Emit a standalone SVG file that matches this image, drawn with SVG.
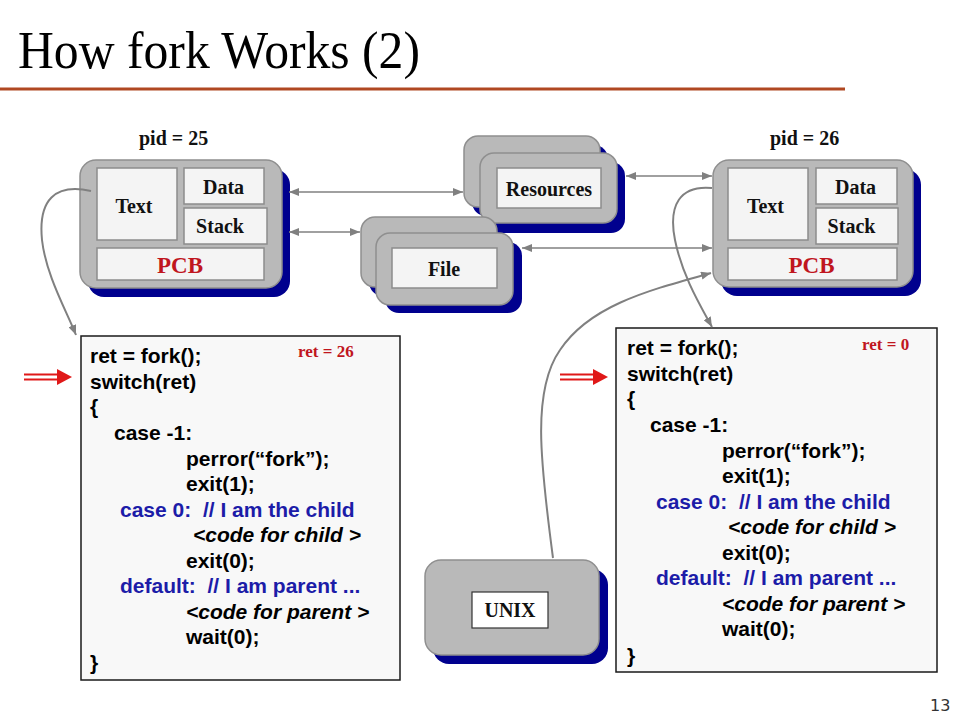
<svg xmlns="http://www.w3.org/2000/svg" width="960" height="720" viewBox="0 0 960 720">
<defs>
<style>
.title{font-family:"Liberation Serif","Times New Roman",serif;font-size:52px;fill:#000}
.lbl{font-family:"Liberation Serif","Times New Roman",serif;font-weight:bold;font-size:20px;fill:#111;text-anchor:middle}
.pcb{font-family:"Liberation Serif","Times New Roman",serif;font-weight:bold;font-size:23px;fill:#C0161E;text-anchor:middle}
.pid{font-family:"Liberation Serif","Times New Roman",serif;font-weight:bold;font-size:20px;fill:#111}
.ret{font-family:"Liberation Serif","Times New Roman",serif;font-weight:bold;font-size:17px;fill:#C0161E}
.code{font-family:"Liberation Sans",Arial,sans-serif;font-weight:bold;font-size:21px;fill:#000}
.blue{fill:#1C1CA8}
.it{font-style:italic}
.gray{fill:#B9B9B9;stroke:#8F8F8F;stroke-width:1.5}
.shadow{fill:#00008E}
.inner{fill:#F4F4F4;stroke:#8C8C8C;stroke-width:1.5}
.codebox{fill:#F8F8F8;stroke:#1A1A1A;stroke-width:1.5}
.conn{fill:none;stroke:#808080;stroke-width:1.5}
.curve{fill:none;stroke:#808080;stroke-width:2}
.red{stroke:#E01818;stroke-width:2}
</style>
<marker id="ah" viewBox="0 0 10 8" refX="10" refY="4" markerWidth="10" markerHeight="8" markerUnits="userSpaceOnUse" orient="auto-start-reverse">
<path d="M0,0 L10,4 L0,8 z" fill="#808080"/>
</marker>
</defs>
<rect width="960" height="720" fill="#FFFFFF"/>

<g id="title">
<text class="title" x="18" y="68" textLength="402" lengthAdjust="spacingAndGlyphs">How fork Works (2)</text>
<line x1="0" y1="89" x2="845" y2="89" stroke="#B04822" stroke-width="3"/>
</g>

<g id="proc25">
<text class="pid" x="139" y="145">pid = 25</text>
<rect class="shadow" x="88" y="169" width="202" height="128" rx="16"/>
<rect class="gray" x="80" y="160" width="202" height="128" rx="16"/>
<rect class="inner" x="97" y="168" width="80" height="72"/>
<rect class="inner" x="184" y="168" width="80" height="36"/>
<rect class="inner" x="184" y="208" width="83" height="36"/>
<rect class="inner" x="97" y="248" width="167" height="32"/>
<text class="lbl" x="134" y="213">Text</text>
<text class="lbl" x="223.5" y="194">Data</text>
<text class="lbl" x="220" y="233">Stack</text>
<text class="pcb" x="180" y="273">PCB</text>
</g>

<g id="proc26">
<text class="pid" x="770" y="145">pid = 26</text>
<rect class="shadow" x="721" y="169" width="200" height="127" rx="16"/>
<rect class="gray" x="713" y="160" width="200" height="127" rx="16"/>
<rect class="inner" x="728" y="168" width="80" height="72"/>
<rect class="inner" x="816" y="168" width="81" height="36"/>
<rect class="inner" x="816" y="208" width="82" height="36"/>
<rect class="inner" x="728" y="248" width="169" height="32"/>
<text class="lbl" x="765.5" y="213">Text</text>
<text class="lbl" x="855.5" y="194">Data</text>
<text class="lbl" x="851.5" y="233">Stack</text>
<text class="pcb" x="811.5" y="273">PCB</text>
</g>

<g id="resources">
<rect class="shadow" x="472" y="145" width="136" height="71" rx="14"/>
<rect class="gray" x="464" y="136" width="136" height="71" rx="14"/>
<rect class="shadow" x="488" y="162" width="137" height="71" rx="14"/>
<rect class="gray" x="480" y="153" width="137" height="70" rx="14"/>
<rect class="inner" x="497" y="168" width="104" height="40"/>
<text class="lbl" x="549" y="196">Resources</text>
</g>

<g id="file">
<rect class="shadow" x="369" y="226" width="136" height="70" rx="14"/>
<rect class="gray" x="361" y="217" width="136" height="70" rx="14"/>
<rect class="shadow" x="385" y="242" width="137" height="71" rx="14"/>
<rect class="gray" x="376" y="233" width="137" height="72" rx="14"/>
<rect class="inner" x="392" y="248" width="105" height="40"/>
<text class="lbl" x="444" y="276">File</text>
</g>

<g id="unix">
<rect class="shadow" x="433" y="569" width="175" height="95" rx="16"/>
<rect class="gray" x="425" y="560" width="174" height="95" rx="16"/>
<rect x="472" y="592" width="76" height="36" fill="#FFFFFF" stroke="#333" stroke-width="1.2"/>
<text class="lbl" x="510" y="617">UNIX</text>
</g>

<g id="code-parent">
<rect class="codebox" x="81" y="336" width="319" height="344"/>
<text class="ret" x="298" y="357">ret = 26</text>
<text class="code" x="90" y="363">ret = fork();</text>
<text class="code" x="90" y="388.5">switch(ret)</text>
<text class="code" x="90" y="414">{</text>
<text class="code" x="114" y="440">case -1:</text>
<text class="code" x="186" y="465.5">perror(“fork”);</text>
<text class="code" x="186" y="491">exit(1);</text>
<text class="code blue" x="120" y="516.5" xml:space="preserve">case 0:  // I am the child</text>
<text class="code it" x="193" y="542">&lt;code for child &gt;</text>
<text class="code" x="186" y="567.5">exit(0);</text>
<text class="code blue" x="120" y="593" xml:space="preserve">default:  // I am parent ...</text>
<text class="code it" x="186" y="618.5">&lt;code for parent &gt;</text>
<text class="code" x="186" y="644">wait(0);</text>
<text class="code" x="90" y="670">}</text>
</g>

<g id="code-child">
<rect class="codebox" x="616" y="328" width="321" height="344"/>
<text class="ret" x="862" y="350">ret = 0</text>
<text class="code" x="627" y="355">ret = fork();</text>
<text class="code" x="627" y="380.5">switch(ret)</text>
<text class="code" x="627" y="406">{</text>
<text class="code" x="650" y="432">case -1:</text>
<text class="code" x="722" y="457.5">perror(“fork”);</text>
<text class="code" x="722" y="483">exit(1);</text>
<text class="code blue" x="656" y="508.5" xml:space="preserve">case 0:  // I am the child</text>
<text class="code it" x="728" y="534">&lt;code for child &gt;</text>
<text class="code" x="722" y="559.5">exit(0);</text>
<text class="code blue" x="656" y="585" xml:space="preserve">default:  // I am parent ...</text>
<text class="code it" x="722" y="610.5">&lt;code for parent &gt;</text>
<text class="code" x="722" y="636">wait(0);</text>
<text class="code" x="627" y="663">}</text>
</g>

<g id="connectors">
<line class="conn" x1="289" y1="192" x2="463" y2="192" marker-start="url(#ah)" marker-end="url(#ah)"/>
<line class="conn" x1="289" y1="232" x2="360" y2="232" marker-start="url(#ah)" marker-end="url(#ah)"/>
<line class="conn" x1="626" y1="176" x2="712" y2="176" marker-start="url(#ah)" marker-end="url(#ah)"/>
<line class="conn" x1="522" y1="248" x2="712" y2="248" marker-start="url(#ah)" marker-end="url(#ah)"/>
<path class="curve" d="M91,191 C55,183 38,200 42,240 C46,275 66,310 76,335" marker-end="url(#ah)"/>
<path class="curve" d="M712,188 C680,185 668,205 675,240 C682,275 700,305 712,327" marker-end="url(#ah)"/>
<path class="curve" d="M553,558 C540,460 532,390 560,350 C590,305 650,290 711,273" marker-end="url(#ah)"/>
<g id="red-arrow-left">
<line class="red" x1="24" y1="374.5" x2="60" y2="374.5"/>
<line class="red" x1="24" y1="379.5" x2="60" y2="379.5"/>
<path d="M57,369 L72,377 L57,385 z" fill="#E01818"/>
</g>
<g id="red-arrow-right">
<line class="red" x1="560" y1="374.5" x2="596" y2="374.5"/>
<line class="red" x1="560" y1="379.5" x2="596" y2="379.5"/>
<path d="M593,369 L608,377 L593,385 z" fill="#E01818"/>
</g>
</g>

<text x="930" y="711" font-family="'DejaVu Sans',sans-serif" font-size="16" fill="#333">13</text>
</svg>
